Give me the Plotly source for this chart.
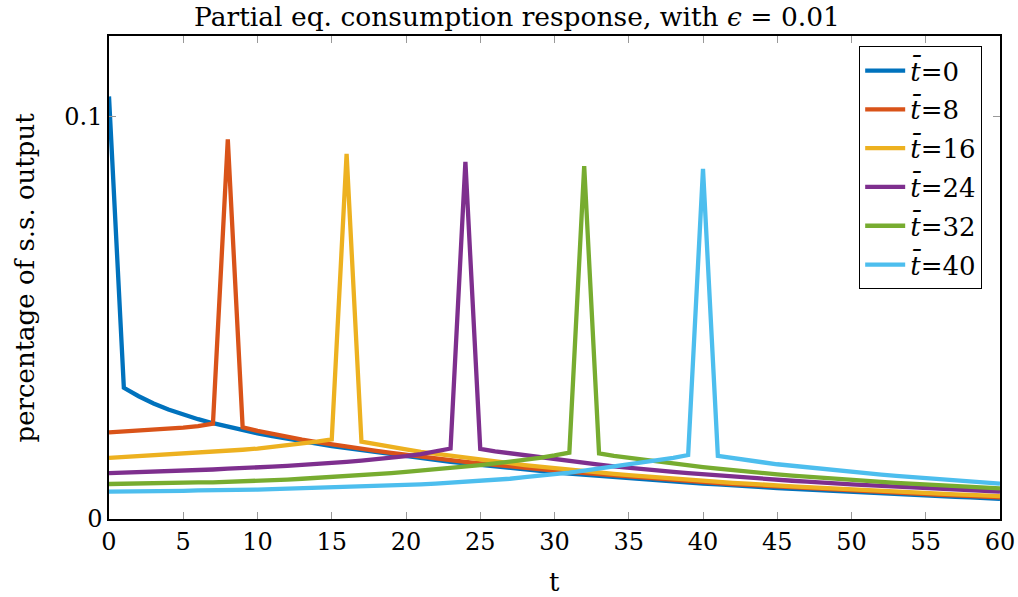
import plotly.graph_objects as go

t = list(range(61))

tbar_labels = ["<i>t\u0304</i>=0", "<i>t\u0304</i>=8", "<i>t\u0304</i>=16",
               "<i>t\u0304</i>=24", "<i>t\u0304</i>=32", "<i>t\u0304</i>=40"]

c_tbar0 = [0.1050, 0.0326, 0.0305, 0.0287, 0.0272, 0.0259, 0.0248, 0.0238, 0.0229, 0.0221,
           0.0213, 0.0206, 0.0199, 0.0193, 0.0187, 0.0181, 0.0176, 0.0170, 0.0165, 0.0160,
           0.0155, 0.0151, 0.0146, 0.0142, 0.0138, 0.0134, 0.0130, 0.0126, 0.0123, 0.0119,
           0.0116, 0.0113, 0.0110, 0.0107, 0.0104, 0.0101, 0.0098, 0.0096, 0.0093, 0.0091,
           0.0088, 0.0086, 0.0083, 0.0081, 0.0079, 0.0077, 0.0075, 0.0073, 0.0071, 0.0069,
           0.0067, 0.0065, 0.0063, 0.0062, 0.0060, 0.0058, 0.0057, 0.0055, 0.0054, 0.0052,
           0.0050]

c_tbar8 = [0.0215, 0.0217, 0.0219, 0.0221, 0.0224, 0.0227, 0.0231, 0.0237, 0.0943, 0.0228,
           0.0219, 0.0211, 0.0204, 0.0197, 0.0191, 0.0185, 0.0180, 0.0174, 0.0169, 0.0164,
           0.0159, 0.0155, 0.0150, 0.0146, 0.0142, 0.0138, 0.0134, 0.0130, 0.0127, 0.0123,
           0.0120, 0.0117, 0.0114, 0.0111, 0.0108, 0.0105, 0.0102, 0.0099, 0.0097, 0.0094,
           0.0092, 0.0089, 0.0087, 0.0085, 0.0083, 0.0080, 0.0078, 0.0076, 0.0074, 0.0073,
           0.0071, 0.0069, 0.0067, 0.0065, 0.0064, 0.0062, 0.0060, 0.0059, 0.0057, 0.0056,
           0.0054]

c_tbar16 = [0.0152, 0.0154, 0.0156, 0.0158, 0.0160, 0.0162, 0.0164, 0.0167, 0.0169, 0.0172,
            0.0175, 0.0179, 0.0183, 0.0187, 0.0192, 0.0198, 0.0907, 0.0192, 0.0185, 0.0179,
            0.0173, 0.0167, 0.0162, 0.0157, 0.0152, 0.0147, 0.0143, 0.0138, 0.0134, 0.0130,
            0.0126, 0.0123, 0.0119, 0.0116, 0.0112, 0.0109, 0.0106, 0.0103, 0.0100, 0.0098,
            0.0095, 0.0093, 0.0090, 0.0088, 0.0085, 0.0083, 0.0081, 0.0079, 0.0077, 0.0075,
            0.0073, 0.0071, 0.0069, 0.0068, 0.0066, 0.0064, 0.0063, 0.0061, 0.0060, 0.0058,
            0.0057]

c_tbar24 = [0.0114, 0.0115, 0.0116, 0.0118, 0.0119, 0.0120, 0.0122, 0.0123, 0.0125, 0.0126,
            0.0128, 0.0130, 0.0132, 0.0134, 0.0137, 0.0139, 0.0142, 0.0145, 0.0148, 0.0152,
            0.0156, 0.0161, 0.0167, 0.0175, 0.0887, 0.0174, 0.0168, 0.0163, 0.0158, 0.0153,
            0.0148, 0.0144, 0.0139, 0.0135, 0.0131, 0.0127, 0.0124, 0.0120, 0.0117, 0.0114,
            0.0111, 0.0108, 0.0105, 0.0102, 0.0100, 0.0097, 0.0095, 0.0093, 0.0090, 0.0088,
            0.0086, 0.0084, 0.0082, 0.0080, 0.0078, 0.0077, 0.0075, 0.0073, 0.0071, 0.0070,
            0.0068]

c_tbar32 = [0.0087, 0.0088, 0.0088, 0.0089, 0.0089, 0.0090, 0.0091, 0.0091, 0.0092, 0.0093,
            0.0094, 0.0096, 0.0098, 0.0100, 0.0102, 0.0104, 0.0106, 0.0109, 0.0111, 0.0114,
            0.0117, 0.0120, 0.0123, 0.0127, 0.0130, 0.0134, 0.0138, 0.0142, 0.0147, 0.0152,
            0.0158, 0.0165, 0.0877, 0.0163, 0.0157, 0.0152, 0.0147, 0.0142, 0.0137, 0.0133,
            0.0129, 0.0125, 0.0121, 0.0117, 0.0114, 0.0111, 0.0108, 0.0105, 0.0102, 0.0099,
            0.0097, 0.0094, 0.0092, 0.0090, 0.0088, 0.0086, 0.0084, 0.0082, 0.0080, 0.0078,
            0.0076]

c_tbar40 = [0.0068, 0.0068, 0.0069, 0.0069, 0.0070, 0.0070, 0.0071, 0.0071, 0.0072, 0.0072,
            0.0073, 0.0074, 0.0075, 0.0076, 0.0077, 0.0078, 0.0079, 0.0080, 0.0082, 0.0083,
            0.0085, 0.0086, 0.0088, 0.0090, 0.0092, 0.0095, 0.0097, 0.0100, 0.0104, 0.0107,
            0.0111, 0.0115, 0.0120, 0.0125, 0.0130, 0.0135, 0.0140, 0.0146, 0.0152, 0.0159,
            0.0870, 0.0157, 0.0151, 0.0146, 0.0141, 0.0136, 0.0132, 0.0128, 0.0124, 0.0120,
            0.0117, 0.0114, 0.0110, 0.0107, 0.0104, 0.0102, 0.0099, 0.0096, 0.0093, 0.0091,
            0.0088]

series = [c_tbar0, c_tbar8, c_tbar16, c_tbar24, c_tbar32, c_tbar40]
colors = ["#0072BD", "#D95319", "#EDB120", "#7E2F8E", "#77AC30", "#4DBEEE"]

x_ticks = list(range(0, 61, 5))
y_tickvals = [0, 0.1]
y_ticktext = ["0", "0.1"]

FONT = "DejaVu Serif"

fig = go.Figure()
for i, (ys, name, col) in enumerate(zip(series, tbar_labels, colors)):
    fig.add_trace(go.Scatter(x=t, y=ys, mode="lines", name=name,
                             line=dict(color=col, width=4.3),
                             legendgroup="g%d" % i))

fig.update_layout(
    width=1018, height=597,
    margin=dict(l=109, r=18, t=36, b=78),
    paper_bgcolor="white", plot_bgcolor="white",
    font=dict(family=FONT, size=24, color="black"),
    showlegend=True,
    title=dict(text="Partial eq. consumption response, with <i>\u03f5</i> = 0.01",
               x=517 / 1018, xref="container", xanchor="center",
               y=1 - 17 / 597, yref="container", yanchor="middle",
               font=dict(family=FONT, size=26.5, color="black")),
    legend=dict(x=0.980, y=0.979, xanchor="right", yanchor="top",
                bordercolor="black", borderwidth=1, bgcolor="white",
                itemwidth=40,
                font=dict(family=FONT, size=26), tracegroupgap=2),
    xaxis=dict(range=[0, 60], tickvals=x_ticks, ticks="inside", ticklen=7,
               tickcolor="#999999", showline=True, linecolor="black", linewidth=1.5,
               mirror="ticks", showgrid=False, zeroline=False, automargin=False,
               tickfont=dict(family=FONT, size=24)),
    yaxis=dict(range=[0, 0.12], tickvals=y_tickvals, ticktext=y_ticktext,
               ticks="inside", ticklen=7, tickcolor="#999999", showline=True,
               linecolor="black", linewidth=1.5, mirror="ticks", showgrid=False,
               zeroline=False, automargin=False, tickfont=dict(family=FONT, size=24)),
    annotations=[
        dict(text="t", xref="paper", yref="paper", x=0.5, y=(519 - 582) / 483,
             xanchor="center", yanchor="middle", showarrow=False,
             font=dict(family=FONT, size=26)),
        dict(text="percentage of s.s. output", xref="paper", yref="paper",
             x=(24 - 109) / 891, y=0.5, xanchor="center", yanchor="middle",
             textangle=-90, showarrow=False, font=dict(family=FONT, size=26)),
    ],
)

fig.write_html("out.html")
